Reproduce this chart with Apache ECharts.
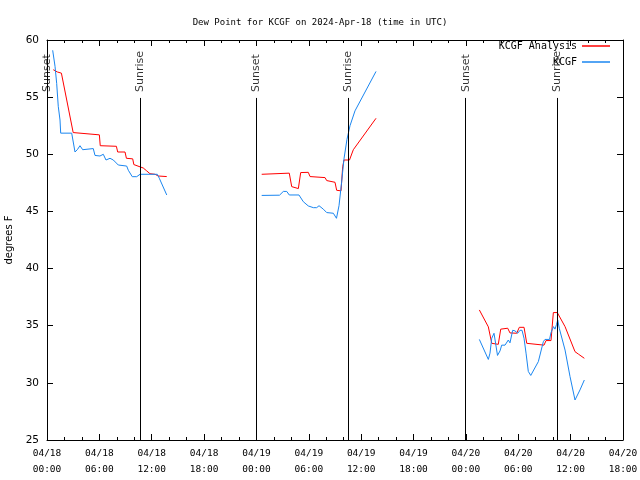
<!DOCTYPE html>
<html>
<head>
<meta charset="utf-8">
<script src="https://cdn.jsdelivr.net/npm/echarts@6/dist/echarts.min.js"></script>
<style>html,body{margin:0;padding:0;background:#fff}#c{width:640px;height:480px}</style>
</head>
<body>
<div id="c"></div>
<script>
// time in hours since 2024-04-18 00:00 UTC; null value = gap
const analysisTimes = [0.72,1.2,1.65,3.0,3.1,6.0,6.1,7.95,8.1,8.94,9.1,9.82,9.95,10.66,11.03,11.42,11.8,12.38,12.75,13.72,
  19,
  24.6,27.76,28.04,28.8,29.07,29.94,30.14,31.86,32.05,33.0,33.19,33.69,33.88,34.03,34.66,35.1,37.7,
  44,
  49.54,50.57,50.96,51.71,51.99,52.79,53.05,53.82,54.12,54.66,54.97,55.12,56.95,57.18,57.75,58.02,58.47,59.36,60.5,60.88,61.57];
const analysisValues = [57.4,57.2,57.1,51.9,51.75,51.7,50.75,50.7,50.2,50.2,49.65,49.6,49.1,48.9,48.8,48.55,48.3,48.25,48.1,48.05,
  null,
  48.25,48.35,47.17,47.0,48.4,48.42,48.05,47.96,47.7,47.55,46.85,46.8,48.9,49.5,49.5,50.4,53.15,
  null,
  36.38,34.9,33.46,33.37,34.7,34.78,34.37,34.34,34.86,34.86,33.46,33.3,33.3,33.7,33.7,36.15,36.15,34.92,32.73,32.52,32.15];

const kcgfTimes = [0.65,0.92,1.11,1.29,1.49,1.57,2.83,3.21,3.47,3.78,4.09,5.3,5.5,6.07,6.45,6.76,7.22,7.6,8.17,9.13,9.32,9.77,10.28,10.66,12.64,12.87,13.72,
  19,
  24.6,26.64,27.08,27.47,27.76,28.87,29.37,29.94,30.52,30.9,31.17,31.66,32.05,32.81,33.17,33.46,33.75,34.03,34.37,34.72,35.29,37.7,
  44,
  49.54,50.57,50.76,50.96,51.22,51.39,51.62,51.91,52.1,52.48,52.86,53.05,53.36,53.62,53.93,54.2,54.43,54.66,54.89,55.15,55.43,55.61,56.3,56.87,57.06,57.58,57.75,57.9,58.04,58.21,58.38,58.52,58.7,59.36,59.93,60.5,61.07,61.57];
const kcgfValues = [59.1,57.7,56.2,54.2,53.0,51.85,51.85,50.2,50.4,50.75,50.4,50.5,49.9,49.85,50.0,49.5,49.65,49.5,49.06,48.97,48.6,48.04,48.04,48.25,48.25,47.9,46.44,
  null,
  46.4,46.42,46.75,46.75,46.44,46.44,45.85,45.48,45.33,45.33,45.5,45.2,44.9,44.84,44.4,45.5,47.5,49.6,51.3,52.5,53.8,57.25,
  null,
  33.8,32.05,32.6,33.9,34.34,34.5,32.4,32.8,33.3,33.3,33.75,33.5,34.6,34.55,34.34,34.6,34.6,33.9,32.6,31.0,30.65,30.7,31.86,33.6,33.8,33.8,34.4,34.3,34.92,34.7,35.1,35.5,34.77,32.87,30.55,28.5,29.38,30.25];

const sunTimes = [0.03, 10.66, 23.97, 34.5, 47.97, 58.47];
const sunLabels = ['Sunset','Sunrise','Sunset','Sunrise','Sunset','Sunrise'];
const sunLineTop = 54.93;
const sunLabelBase = 55.45;

const xTickLabels = ['04/18\n00:00','04/18\n06:00','04/18\n12:00','04/18\n18:00','04/19\n00:00','04/19\n06:00',
  '04/19\n12:00','04/19\n18:00','04/20\n00:00','04/20\n06:00','04/20\n12:00','04/20\n18:00'];

function pairs(t, v) { return t.map((x, i) => [x, v[i] === null ? '-' : v[i]]); }

const mono = 'DejaVu Sans Mono';
const sans = 'DejaVu Sans';
const chart = echarts.init(document.getElementById('c'), null, {renderer: 'canvas'});
const axisBase = {
  axisLine: {show: true, onZero: false, lineStyle: {color: '#000', width: 1}},
  splitLine: {show: false}
};
chart.setOption({
  animation: false,
  backgroundColor: '#fff',
  title: {
    text: 'Dew Point for KCGF on 2024-Apr-18 (time in UTC)',
    left: 'center', top: 13,
    textStyle: {fontFamily: mono, fontSize: 9, fontWeight: 'normal', color: '#000'}
  },
  legend: [
    {data: ['KCGF Analysis'], right: 30, top: 41, align: 'right', orient: 'vertical',
     itemWidth: 28, itemHeight: 1.5, icon: 'rect', padding: 0,
     textStyle: {fontFamily: mono, fontSize: 10, color: '#000'}},
    {data: ['KCGF'], right: 30, top: 57, align: 'right', orient: 'vertical',
     itemWidth: 28, itemHeight: 1.5, icon: 'rect', padding: 0,
     textStyle: {fontFamily: mono, fontSize: 10, color: '#000'}}
  ],
  grid: {left: 47, right: 17, top: 40, bottom: 40, containLabel: false, outerBoundsMode: 'none'},
  xAxis: [
    Object.assign({}, axisBase, {
      type: 'value', min: 0, max: 66, interval: 6, position: 'bottom',
      axisTick: {show: true, inside: true, length: 6, lineStyle: {color: '#000'}},
      minorTick: {show: true, splitNumber: 3, length: 3, lineStyle: {color: '#000'}},
      axisLabel: {margin: 6, lineHeight: 16, fontFamily: mono, fontSize: 9.5, color: '#000',
        formatter: v => xTickLabels[Math.round(v / 6)] || ''}
    }),
    Object.assign({}, axisBase, {
      type: 'value', min: 0, max: 66, interval: 6, position: 'top',
      axisTick: {show: true, inside: true, length: 6, lineStyle: {color: '#000'}},
      minorTick: {show: true, splitNumber: 3, length: 3, lineStyle: {color: '#000'}},
      axisLabel: {show: false}
    })
  ],
  yAxis: [
    Object.assign({}, axisBase, {
      type: 'value', min: 25, max: 60, interval: 5, position: 'left',
      name: 'degrees F', nameLocation: 'middle', nameGap: 32, nameRotate: 90,
      nameTextStyle: {fontFamily: sans, fontSize: 10, color: '#000'},
      axisTick: {show: true, inside: true, length: 6, lineStyle: {color: '#000'}},
      axisLabel: {margin: 8, fontFamily: sans, fontSize: 10.5, color: '#000'}
    }),
    Object.assign({}, axisBase, {
      type: 'value', min: 25, max: 60, interval: 5, position: 'right',
      axisTick: {show: true, inside: true, length: 6, lineStyle: {color: '#000'}},
      axisLabel: {show: false}
    })
  ],
  series: [
    {
      name: 'KCGF Analysis', type: 'line', xAxisIndex: 0, yAxisIndex: 0,
      data: pairs(analysisTimes, analysisValues), showSymbol: false, connectNulls: false,
      color: '#ff0000', lineStyle: {width: 1, color: '#ff0000'}, z: 3
    },
    {
      name: 'KCGF', type: 'line', xAxisIndex: 0, yAxisIndex: 0,
      data: pairs(kcgfTimes, kcgfValues), showSymbol: false, connectNulls: false,
      color: '#1a86f0', lineStyle: {width: 1, color: '#1a86f0'}, z: 3
    },
    {
      name: 'sun', type: 'scatter', xAxisIndex: 0, yAxisIndex: 0, symbolSize: 0, silent: true,
      data: sunTimes.map((t, i) => ({value: [t, sunLabelBase], name: sunLabels[i]})),
      label: {show: true, position: 'inside', rotate: 90, align: 'left', verticalAlign: 'middle',
        formatter: p => p.name, fontFamily: sans, fontSize: 11, color: '#000'},
      markLine: {
        silent: true, symbol: ['none', 'none'], label: {show: false},
        lineStyle: {color: '#000', width: 1, type: 'solid'},
        data: sunTimes.map(t => [{coord: [t, 25]}, {coord: [t, sunLineTop]}])
      },
      z: 2
    }
  ]
});
</script>
</body>
</html>
